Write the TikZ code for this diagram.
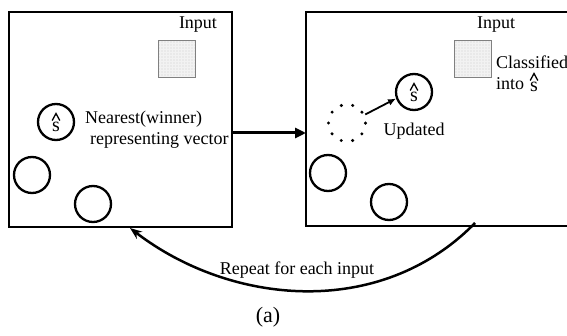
\documentclass[tikz,border=0pt]{standalone}
\usepackage{fontspec}
\setmainfont{Liberation Serif}
\usetikzlibrary{arrows.meta,patterns.meta}

\tikzset{
  frame/.style={line width=2.3pt},
  vec/.style={circle,draw,line width=2.3pt,minimum size=36pt,inner sep=0pt},
  ghost/.style={circle,draw,line width=3.4pt,minimum size=37pt,inner sep=0pt,
    line cap=round,dash pattern=on 0pt off 11.6pt},
  inputbox/.style={draw=gray,line width=1pt,minimum size=37pt,inner sep=0pt,
    fill=gray!10,postaction={pattern={Dots[distance=3pt,radius=0.45pt]},pattern color=gray!90}},
  lbl/.style={font=\fontsize{18}{20}\selectfont,inner sep=0pt},
  sym/.style={font=\fontsize{20}{22}\selectfont,inner sep=0pt},
  hatline/.style={line width=1.3pt},
  flow/.style={line width=3pt,-{Triangle[length=11pt,width=10pt]}},
}

% an "s" with a tall circumflex above it: #1 node name, #2 centre of the s
\newcommand\hatsat[2]{%
  \node[sym] (#1) at (#2) {s};
  \draw[hatline] ([shift={(-3.8,-6.5)}]#1.center) -- ++(3.8,-7) -- ++(3.8,7);}

\begin{document}
\begin{tikzpicture}[x=1pt,y=-1pt]
\useasboundingbox (0,0) rectangle (567,336);

% left panel: before the update
\draw[frame] (9,12) rectangle (232,227);
\node[lbl] (inL) at (198,25) {Input};
\node[inputbox] (sqL) at (176.5,59.5) {};
\node[vec] (winL) at (56,122) {};
\hatsat{sL}{56,127}
\node[lbl,anchor=west] (nearest) at (85,119) {Nearest(winner)};
\node[lbl,anchor=west] (repr) at (90,140) {representing vector};
\node[vec] (cL1) at (32,175) {};
\node[vec] (cL2) at (93,204) {};

% right panel: after the update (open on the right)
\draw[frame] (572,12) -- (306,12) -- (306,226) -- (572,226);
\coordinate (rIn) at (306,133);
\node[lbl] (inR) at (496,25) {Input};
\node[inputbox] (sqR) at (473,59.5) {};
\node[lbl,anchor=west] (cls) at (496,62) {Classified};
\node[lbl,anchor=west] (into) at (496,84) {into};
\hatsat{sC}{534,87}
\node[ghost] (old) at (347,123) {};
\node[vec] (winR) at (414,92) {};
\hatsat{sR}{414,97}
\node[lbl] (upd) at (414,131) {Updated};
\node[vec] (cR1) at (328,173) {};
\node[vec] (cR2) at (389,202) {};
\draw[line width=1.8pt,-{Latex[length=8pt,width=7pt]}] (old.25) -- (winR.200);

% step between the panels
\coordinate (lOut) at (232,133);
\draw[flow] (lOut) -- (rIn);

% loop back for the next input
\coordinate (loopA) at (475,223);
\coordinate (loopB) at (130,228);
\draw[line width=2.5pt,-{Stealth[length=12pt,width=9pt]}]
  (loopA) .. controls (380,320) and (230,305) .. (loopB);
\node[lbl] (rep) at (297,270) {Repeat for each input};
\node[font=\fontsize{22}{24}\selectfont,inner sep=0pt] (cap) at (268,317) {(a)};
\end{tikzpicture}
\end{document}
